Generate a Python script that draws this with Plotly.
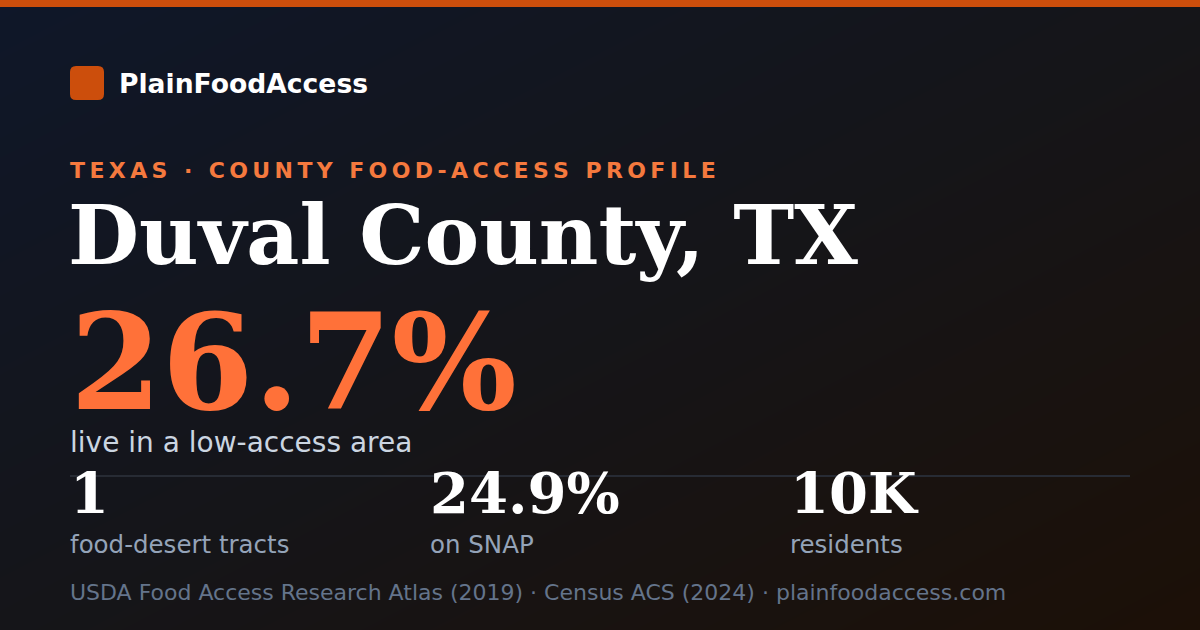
#!/usr/bin/env python3
"""
County food-access share card (1200x630) drawn with plotly.
"""

import plotly.graph_objects as go

W, H = 1200, 630

BRAND = "PlainFoodAccess"
EYEBROW = "TEXAS · COUNTY FOOD-ACCESS PROFILE"
COUNTY = "Duval County, TX"
LOW_ACCESS_PCT = 26.7
LOW_ACCESS_LABEL = "live in a low-access area"
STAT_VALUES = ["1", "24.9%", "10K"]
STAT_LABELS = ["food-desert tracts", "on SNAP", "residents"]
SOURCE = "USDA Food Access Research Atlas (2019) · Census ACS (2024) · plainfoodaccess.com"

SANS = "DejaVu Sans"
SERIF = "DejaVu Serif"
ORANGE = "#ff7139"
BAR = "#cc4e0c"


def spaced(text, gap="\u2009"):
    # plotly has no letter-spacing, fake it with thin spaces
    return gap.join(text)


def label(fig, x, y, text, size, color, family=SANS, weight="normal"):
    fig.add_annotation(x=x, y=y, text=text, showarrow=False, xanchor="left", yanchor="middle",
                       font=dict(family=family, size=size, color=color, weight=weight))


def main():
    fig = go.Figure()

    # diagonal background wash
    fig.add_trace(go.Heatmap(x=[0, W], y=[0, H], z=[[0, 0.5], [0.5, 1]], zsmooth="best",
                             colorscale=[[0, "#0f1729"], [0.5, "#151519"], [1, "#1c1007"]],
                             showscale=False, hoverinfo="skip"))

    fig.add_shape(type="rect", x0=0, x1=W, y0=0, y1=7, fillcolor=BAR, line_width=0)
    fig.add_shape(type="path", fillcolor=BAR, line_width=0,
                  path="M 76 66 L 98 66 Q 104 66 104 72 L 104 94 Q 104 100 98 100 L 76 100 "
                       "Q 70 100 70 94 L 70 72 Q 70 66 76 66 Z")
    fig.add_shape(type="line", x0=70, x1=1130, y0=476, y1=476, line=dict(color="#272b34", width=2))

    label(fig, 117, 83, BRAND, 26.6, "#ffffff", weight="bold")
    label(fig, 68, 170, spaced(EYEBROW), 22, "#f5793e", weight="bold")
    label(fig, 66, 235, COUNTY, 82, "#ffffff", family=SERIF, weight="bold")
    label(fig, 68, 362, f"{LOW_ACCESS_PCT:.1f}%", 132, ORANGE, family=SERIF, weight="bold")
    label(fig, 68, 442, LOW_ACCESS_LABEL, 28, "#cbd5e1")

    for i, (val, lab) in enumerate(zip(STAT_VALUES, STAT_LABELS)):
        x = 70 + i * 360
        label(fig, x - 2, 493, val, 56, "#ffffff", family=SERIF, weight="bold")
        label(fig, x - 2, 544, lab, 24.5, "#94a3b8")

    label(fig, 68, 592, SOURCE, 22, "#64748b")

    fig.update_layout(width=W, height=H, margin=dict(l=0, r=0, t=0, b=0),
                      paper_bgcolor="#141418", plot_bgcolor="#141418", showlegend=False,
                      xaxis=dict(range=[0, W], visible=False, fixedrange=True),
                      yaxis=dict(range=[H, 0], visible=False, fixedrange=True))
    fig.write_html("out.html", config=dict(displayModeBar=False),
                   post_script="document.body.style.margin='0';")


if __name__ == '__main__':
    main()
